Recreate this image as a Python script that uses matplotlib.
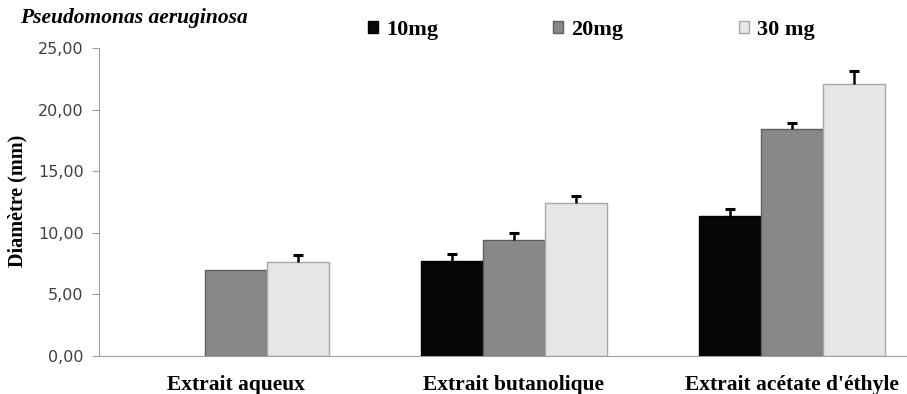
import matplotlib
matplotlib.use("Agg")
import matplotlib.pyplot as plt
import numpy as np

categories = ["Extrait aqueux", "Extrait butanolique", "Extrait acétate d'éthyle"]
doses = ["10mg", "20mg", "30 mg"]
val_10mg = [np.nan, 7.7, 11.4]
val_20mg = [7.0, 9.4, 18.4]
val_30mg = [7.6, 12.4, 22.1]
err_10mg = [np.nan, 0.6, 0.5]
err_20mg = [np.nan, 0.6, 0.55]
err_30mg = [0.6, 0.55, 1.0]

values = [val_10mg, val_20mg, val_30mg]
errors = [err_10mg, err_20mg, err_30mg]
colors = ["#060606", "#888888", "#e6e6e6"]
edges = ["#000000", "#5e5e5e", "#a8a8a8"]

serif = "Liberation Serif"

fig = plt.figure(figsize=(9.07, 3.94), dpi=100)
ax = fig.add_axes([99 / 907, 38 / 394, 808 / 907, 308 / 394])

x = np.arange(len(categories))
width = 0.223
for i in range(3):
    pos = x + (i - 1) * width
    ax.bar(pos, values[i], width, color=colors[i], edgecolor=edges[i],
           linewidth=1.0, label=doses[i], zorder=2)
    # upper error only: hide the lower cap
    eb = ax.errorbar(pos, values[i], yerr=[np.zeros(3), errors[i]], fmt="none",
                     ecolor="black", elinewidth=1.8, capsize=3.6, capthick=2.2,
                     zorder=3)
    eb[1][0].set_visible(False)

ax.set_xlim(-0.493, 2.414)
ax.set_ylim(0, 25)
ax.set_yticks(np.arange(0, 26, 5))
ax.set_yticklabels([f"{v:.2f}".replace(".", ",") for v in np.arange(0, 26, 5)],
                   fontsize=11.5, color="#404040", family="DejaVu Sans")
ax.set_xticks(x)
ax.set_xticklabels(categories, fontsize=15.5, fontweight="bold", family=serif)
ax.tick_params(axis="x", length=0, pad=14)
ax.tick_params(axis="y", length=5, color="#a0a0a0", pad=6)

for s in ["top", "right"]:
    ax.spines[s].set_visible(False)
ax.spines["left"].set_color("#a0a0a0")
ax.spines["bottom"].set_color("#a0a0a0")

fig.text(17 / 907, 1 - 201 / 394, "Diamètre (mm)", rotation=90, ha="center",
         va="center", fontsize=14.5, fontweight="bold", family=serif)
fig.text(20 / 907, 1 - 18 / 394, "Pseudomonas aeruginosa", ha="left",
         va="center", fontsize=15.5, fontweight="bold", fontstyle="italic",
         family=serif)

fig.legend(loc="center left", bbox_to_anchor=(368 / 907, 1 - 30 / 394),
           ncol=3, frameon=False, borderpad=0, borderaxespad=0,
           handlelength=0.45, handleheight=0.45, handletextpad=0.35,
           columnspacing=5.2,
           prop={"family": serif, "weight": "bold", "size": 16})

fig.savefig("out.png", dpi=100)
